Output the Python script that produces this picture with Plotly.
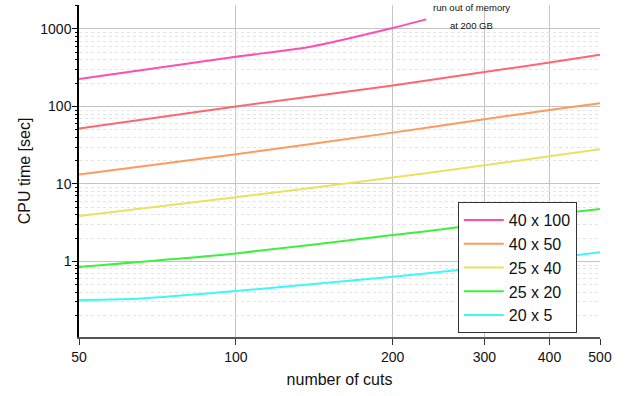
import numpy as np
import plotly.graph_objects as go

# ---- data ----
x_4x100 = [50, 100, 140, 200, 232]
y_4x100 = [226, 438, 596, 1030, 1330]

x_red = [50, 100, 200, 300, 400, 500]
y_red = [52, 100, 187, 278, 370, 466]

x_40x50 = [50, 100, 200, 300, 400, 500]
y_40x50 = [13.2, 24.2, 46, 68.6, 90, 110]

x_25x40 = [50, 100, 200, 300, 400, 500]
y_25x40 = [3.87, 6.73, 12.1, 17.4, 22.8, 28]

x_25x20 = [50, 100, 200, 267, 300, 400, 500]
y_25x20 = [0.85, 1.27, 2.19, 2.76, 3.2, 4.0, 4.75]

x_20x5 = [50, 66, 100, 200, 267, 300, 400, 500]
y_20x5 = [0.317, 0.333, 0.415, 0.634, 0.774, 0.855, 1.09, 1.32]

x_ticks = [50, 100, 200, 300, 400, 500]
y_ticks = [1, 10, 100, 1000]
y_minor = [m * 10.0 ** e for e in range(-1, 4) for m in range(2, 10)]

FONT = "Liberation Sans, Arial, sans-serif"

fig = go.Figure()
series = [
    ("40 x 100", x_4x100, y_4x100, "#ff4db5", True),
    ("", x_red, y_red, "#ff6670", False),
    ("40 x 50", x_40x50, y_40x50, "#ff9a5a", True),
    ("25 x 40", x_25x40, y_25x40, "#ece060", True),
    ("25 x 20", x_25x20, y_25x20, "#3ef03e", True),
    ("20 x 5", x_20x5, y_20x5, "#3cf8f8", True),
]
for name, xs, ys, col, show in series:
    fig.add_trace(go.Scatter(x=xs, y=ys, mode="lines", name=name,
                             line=dict(color=col, width=2, shape="spline", smoothing=0.6),
                             showlegend=show))

# invisible trace on minor-grid overlay axis
fig.add_trace(go.Scatter(x=[50], y=[1], yaxis="y2", mode="markers",
                         marker=dict(opacity=0), showlegend=False,
                         hoverinfo="skip"))

yr = [np.log10(0.106), np.log10(2040)]
xr = [np.log10(50), np.log10(500)]

fig.update_layout(
    width=627, height=396,
    margin=dict(l=79, r=27, t=5, b=59),
    paper_bgcolor="white", plot_bgcolor="white",
    font=dict(family=FONT, color="#111"),
    xaxis=dict(type="log", range=xr, tickvals=x_ticks,
               ticktext=[str(v) for v in x_ticks], automargin=False,
               showgrid=True, gridcolor="#c4c4c4", gridwidth=1,
               showline=True, linecolor="#555", linewidth=2,
               ticks="outside", ticklen=6, tickcolor="#333", tickwidth=1,
               tickfont=dict(size=14, family=FONT), zeroline=False,
               title=dict(text="number of cuts", standoff=10,
                          font=dict(size=16, family=FONT))),
    yaxis=dict(type="log", range=yr, tickvals=y_ticks,
               ticktext=[str(v) for v in y_ticks], automargin=False,
               showgrid=True, gridcolor="#c4c4c4", gridwidth=1,
               showline=True, linecolor="#000", linewidth=1.5,
               ticks="outside", ticklen=5, tickcolor="#000", tickwidth=1,
               ticklabelstandoff=-2,
               tickfont=dict(size=14, family=FONT), zeroline=False,
               title=dict(text="CPU time [sec]", standoff=6,
                          font=dict(size=16, family=FONT))),
    yaxis2=dict(type="log", range=yr, overlaying="y", side="left",
                tickvals=y_minor, showticklabels=False, automargin=False,
                showgrid=True, gridcolor="#e4e4e4", griddash="dot", gridwidth=1,
                ticks="outside", ticklen=3, tickcolor="#000", tickwidth=1,
                showline=False, zeroline=False),
    legend=dict(x=0.727, y=0.012, xanchor="left", yanchor="bottom",
                bgcolor="white", bordercolor="#333", borderwidth=1,
                font=dict(size=16, family=FONT, color="#111"),
                tracegroupgap=0, itemwidth=40),
    annotations=[
        dict(text="run out of memory", x=0.753, y=0.991, xref="paper", yref="paper",
             xanchor="center", yanchor="middle",
             showarrow=False, font=dict(size=9.5, family=FONT, color="#111")),
        dict(text="at 200 GB", x=0.753, y=0.937, xref="paper", yref="paper",
             xanchor="center", yanchor="middle",
             showarrow=False, font=dict(size=9.5, family=FONT, color="#111")),
    ],
)

fig.write_html("out.html", config={"displayModeBar": False},
               post_script="document.body.style.margin='0';document.body.style.padding='0';")
